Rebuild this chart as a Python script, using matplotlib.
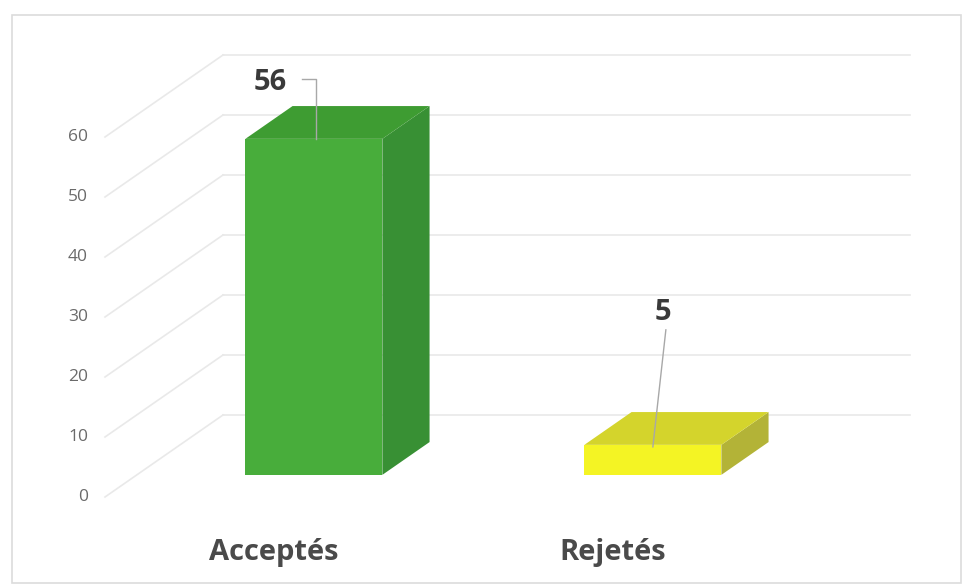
import matplotlib.pyplot as plt
from matplotlib.patches import Polygon, Rectangle

# data
categories = ['Acceptés', 'Rejetés']
values = [56, 5]
y_ticks = [0, 10, 20, 30, 40, 50, 60]

# face colours: front, top, side
front_cols = ['#48ad3b', '#f4f424']
top_cols = ['#3e9c32', '#d4d42c']
side_cols = ['#389034', '#b3b337']

# pixel -> data unit helpers (figure is 964x587 px)
PX = 1 / 339.0   # one category step is 339 px
PY = 1 / 6.0     # one value unit is 6 px
DX = 118 * PX    # full depth of the 3d box
DY = 82 * PY


def proj(x, y, d):
    # oblique projection of a point at depth d (0 = front, 1 = back wall)
    return (x + d * DX, y + d * DY)


fig = plt.figure(figsize=(9.64, 5.87), dpi=100)
ax = fig.add_axes([0, 0, 1, 1])
ax.set_xlim(-282 * PX, (964 - 282) * PX)
ax.set_ylim(-(587 - 497) * PY, 497 * PY)
ax.axis('off')

# chart border
ax.add_patch(Rectangle((12 / 964, 4 / 587), 949 / 964, 568 / 587,
                       transform=ax.transAxes, fill=False,
                       edgecolor='#dcdcdc', linewidth=1.2))

# walls: back wall gridlines + side wall diagonals
x_left = (105 - 282) * PX
x_right = (792 - 282) * PX
grid_col = '#e9e9e9'
for v in y_ticks:
    a = proj(x_left, v, 1)
    b = proj(x_right, v, 1)
    ax.plot([a[0], b[0]], [a[1], b[1]], color=grid_col, lw=1.2, zorder=1)
    c = proj(x_left, v, 0)
    ax.plot([c[0], a[0]], [c[1], a[1]], color=grid_col, lw=1.2, zorder=1)
    ax.text(x_left - 17 * PX, v, str(v), ha='right', va='center',
            fontsize=12.5, color='#6a6a6a', family='Open Sans')

# bars as boxes
f0, f1 = 0.27, 0.67
hw = 68.5 * PX
for i, v in enumerate(values):
    xl, xr = i - hw, i + hw
    front = [proj(xl, 0, f0), proj(xr, 0, f0), proj(xr, v, f0), proj(xl, v, f0)]
    top = [proj(xl, v, f0), proj(xr, v, f0), proj(xr, v, f1), proj(xl, v, f1)]
    side = [proj(xr, 0, f0), proj(xr, 0, f1), proj(xr, v, f1), proj(xr, v, f0)]
    ax.add_patch(Polygon(side, closed=True, facecolor=side_cols[i], edgecolor='none', zorder=3))
    ax.add_patch(Polygon(top, closed=True, facecolor=top_cols[i], edgecolor='none', zorder=3))
    ax.add_patch(Polygon(front, closed=True, facecolor=front_cols[i], edgecolor='none', zorder=4))

    # category label
    ax.text(i - 8 * PX, -9.2, categories[i], ha='center', va='center',
            fontsize=21, fontweight='bold', color='#4a4a4a', family='Open Sans')

# data labels with leader lines (offsets in px)
lead_col = '#a8a8a8'
for i, v in enumerate(values):
    cx, cy = proj(i, v, f0)
    if i == 0:
        lx, ly = cx - 44 * PX, cy + 56 * PY
        xs = [cx + 2 * PX, cx + 2 * PX, cx - 12 * PX]
        ys = [cy, cy + 60 * PY, cy + 60 * PY]
    else:
        lx, ly = cx + 10 * PX, cy + 132 * PY
        xs = [cx, cx + 13 * PX]
        ys = [cy - 2 * PY, cy + 115 * PY]
    ax.plot(xs, ys, color=lead_col, lw=1, zorder=5)
    ax.text(lx, ly, str(v), ha='center', va='center', fontsize=21,
            fontweight='bold', color='#3a3a3a', family='Open Sans', zorder=6)

fig.savefig('out.png', dpi=100, facecolor='white')
